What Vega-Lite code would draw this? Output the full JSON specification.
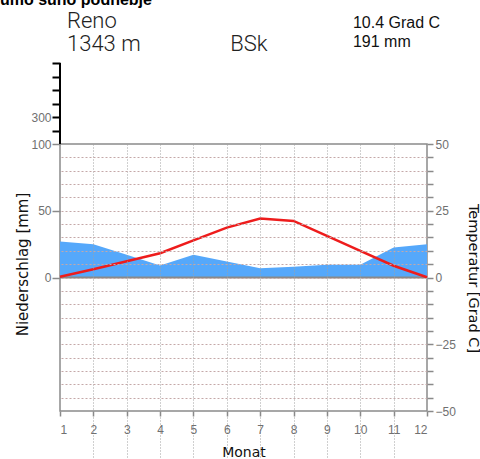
{
  "$schema": "https://vega.github.io/schema/vega-lite/v6.json",
  "width": 367,
  "height": 267,
  "autosize": "none",
  "padding": {"left": 60, "top": 144, "right": 53, "bottom": 48},
  "background": "white",
  "config": {
    "view": {"stroke": "#8a8a8a", "strokeWidth": 1.5},
    "font": "Liberation Sans",
    "axis": {"labelOverlap": false}
  },
  "datasets": {
    "climate": [
      {"month": 1, "precip": 27, "temp": 0.3},
      {"month": 2, "precip": 25, "temp": 3.1},
      {"month": 3, "precip": 17, "temp": 6.1},
      {"month": 4, "precip": 9, "temp": 9.1},
      {"month": 5, "precip": 17, "temp": 13.9},
      {"month": 6, "precip": 12, "temp": 18.7},
      {"month": 7, "precip": 7, "temp": 22.1},
      {"month": 8, "precip": 8, "temp": 21.2},
      {"month": 9, "precip": 9.5, "temp": 15.6},
      {"month": 10, "precip": 9.5, "temp": 10.0},
      {"month": 11, "precip": 22.5, "temp": 4.4},
      {"month": 12, "precip": 25, "temp": 0.1}
    ]
  },
  "layer": [
    {
      "layer": [
        {
          "data": {"name": "climate"},
          "mark": {"type": "area", "color": "#55a8fb", "interpolate": "linear"},
          "encoding": {
            "x": {
              "field": "month", "type": "quantitative", "title": "Monat",
              "scale": {"domain": [1, 12], "nice": false, "zero": false},
              "axis": {"title": "Monat", "values": [1, 2, 3, 4, 5, 6, 7, 8, 9, 10, 11, 12], "format": "d", "labelOverlap": false, "grid": true, "gridColor": "#a0a0a0", "gridDash": [1, 2], "gridOpacity": {"condition": {"test": "datum.value == 1 || datum.value == 12", "value": 0}, "value": 1}, "domain": false, "tickSize": 5, "tickColor": "#8a8a8a", "tickWidth": 1.5, "labelColor": "#707070", "labelFontSize": 12, "labelPadding": 8, "titleFont": "DejaVu Sans", "titleFontSize": 14, "titleFontWeight": "normal", "titleColor": "#111111", "titleY": 41, "titleBaseline": "middle", "zindex": 1}
            },
            "y": {
              "field": "precip", "type": "quantitative", "title": "Niederschlag [mm]",
              "scale": {"domain": [-100, 100, 700], "range": [267, 0, -81], "nice": false, "zero": false},
              "axis": {"title": "Niederschlag [mm]", "values": [0, 50, 100, 200, 300, 400, 500, 600, 700], "labelExpr": "indexof([0, 50, 100, 300], datum.value) >= 0 ? datum.label : ''", "labelOverlap": false, "domain": false, "grid": false, "tickSize": 8, "tickColor": {"condition": {"test": "datum.value > 100", "value": "black"}, "value": "#8a8a8a"}, "tickWidth": {"condition": {"test": "datum.value > 100", "value": 2}, "value": 1.5}, "labelColor": "#707070", "labelFontSize": 12, "labelPadding": 1, "titleFont": "DejaVu Sans", "titleFontSize": 15, "titleFontWeight": "normal", "titleColor": "#111111", "titleX": -38, "titleY": 120, "titleAngle": 270, "titleAlign": "center", "titleBaseline": "middle"}
            }
          }
        },
        {
          "data": {"values": [{}]},
          "mark": {"type": "rule", "color": "black", "strokeWidth": 2},
          "encoding": {
            "x": {"datum": 1, "type": "quantitative", "title": "Monat",
              "axis": {"title": "Monat", "values": [1, 2, 3, 4, 5, 6, 7, 8, 9, 10, 11, 12], "format": "d", "labelOverlap": false, "grid": true, "gridColor": "#a0a0a0", "gridDash": [1, 2], "gridOpacity": {"condition": {"test": "datum.value == 1 || datum.value == 12", "value": 0}, "value": 1}, "domain": false, "tickSize": 5, "tickColor": "#8a8a8a", "tickWidth": 1.5, "labelColor": "#707070", "labelFontSize": 12, "labelPadding": 8, "titleFont": "DejaVu Sans", "titleFontSize": 14, "titleFontWeight": "normal", "titleColor": "#111111", "titleY": 41, "titleBaseline": "middle", "zindex": 1}},
            "y": {"datum": 100, "type": "quantitative", "title": "Niederschlag [mm]",
              "axis": {"title": "Niederschlag [mm]", "values": [0, 50, 100, 200, 300, 400, 500, 600, 700], "labelExpr": "indexof([0, 50, 100, 300], datum.value) >= 0 ? datum.label : ''", "labelOverlap": false, "domain": false, "grid": false, "tickSize": 8, "tickColor": {"condition": {"test": "datum.value > 100", "value": "black"}, "value": "#8a8a8a"}, "tickWidth": {"condition": {"test": "datum.value > 100", "value": 2}, "value": 1.5}, "labelColor": "#707070", "labelFontSize": 12, "labelPadding": 1, "titleFont": "DejaVu Sans", "titleFontSize": 15, "titleFontWeight": "normal", "titleColor": "#111111", "titleX": -38, "titleY": 120, "titleAngle": 270, "titleAlign": "center", "titleBaseline": "middle"}},
            "y2": {"datum": 700}
          }
        }
      ]
    },
    {
      "layer": [
        {
          "data": {"values": [{}]},
          "mark": {"type": "rule", "color": "#8a8a8a", "strokeWidth": 2},
          "encoding": {
            "y": {"datum": 0, "type": "quantitative", "title": "Temperatur [Grad C]",
              "scale": {"domain": [-50, 50], "nice": false, "zero": false},
              "axis": {"orient": "right", "title": "Temperatur [Grad C]", "values": [-50, -45, -40, -35, -30, -25, -20, -15, -10, -5, 0, 5, 10, 15, 20, 25, 30, 35, 40, 45, 50], "labelExpr": "datum.value % 25 === 0 ? datum.label : ''", "labelOverlap": false, "grid": true, "gridColor": "#c4a8a8", "gridDash": [2, 2], "gridOpacity": {"condition": {"test": "abs(datum.value) == 50", "value": 0}, "value": 1}, "domain": false, "tickSize": 6, "tickColor": "#8a8a8a", "tickWidth": 1.5, "labelPadding": 2, "labelColor": "#707070", "labelFontSize": 12, "titleFont": "DejaVu Sans", "titleFontSize": 14.5, "titleFontWeight": "normal", "titleColor": "#111111", "titleAngle": 90, "titleX": 45, "titleY": 134, "titleAlign": "center", "titleBaseline": "middle", "zindex": 1}}
          }
        },
        {
          "data": {"name": "climate"},
          "mark": {"type": "line", "color": "#ee1c1c", "strokeWidth": 2.5},
          "encoding": {
            "x": {"field": "month", "type": "quantitative", "title": "Monat",
              "axis": {"title": "Monat", "values": [1, 2, 3, 4, 5, 6, 7, 8, 9, 10, 11, 12], "format": "d", "labelOverlap": false, "grid": true, "gridColor": "#a0a0a0", "gridDash": [1, 2], "gridOpacity": {"condition": {"test": "datum.value == 1 || datum.value == 12", "value": 0}, "value": 1}, "domain": false, "tickSize": 5, "tickColor": "#8a8a8a", "tickWidth": 1.5, "labelColor": "#707070", "labelFontSize": 12, "labelPadding": 8, "titleFont": "DejaVu Sans", "titleFontSize": 14, "titleFontWeight": "normal", "titleColor": "#111111", "titleY": 41, "titleBaseline": "middle", "zindex": 1}},
            "y": {"field": "temp", "type": "quantitative", "title": "Temperatur [Grad C]",
              "axis": {"orient": "right", "title": "Temperatur [Grad C]", "values": [-50, -45, -40, -35, -30, -25, -20, -15, -10, -5, 0, 5, 10, 15, 20, 25, 30, 35, 40, 45, 50], "labelExpr": "datum.value % 25 === 0 ? datum.label : ''", "labelOverlap": false, "grid": true, "gridColor": "#c4a8a8", "gridDash": [2, 2], "gridOpacity": {"condition": {"test": "abs(datum.value) == 50", "value": 0}, "value": 1}, "domain": false, "tickSize": 6, "tickColor": "#8a8a8a", "tickWidth": 1.5, "labelPadding": 2, "labelColor": "#707070", "labelFontSize": 12, "titleFont": "DejaVu Sans", "titleFontSize": 14.5, "titleFontWeight": "normal", "titleColor": "#111111", "titleAngle": 90, "titleX": 45, "titleY": 134, "titleAlign": "center", "titleBaseline": "middle", "zindex": 1}}
          }
        },
        {
          "data": {"values": [{"label": "umo suho podnebje"}]},
          "mark": {"type": "text", "align": "left", "baseline": "alphabetic", "fontSize": 16, "fontWeight": "bold", "color": "black"},
          "encoding": {"text": {"field": "label"},
            "x": {"datum": -0.8, "type": "quantitative", "title": "Monat", "axis": {"title": "Monat", "values": [1, 2, 3, 4, 5, 6, 7, 8, 9, 10, 11, 12], "format": "d", "labelOverlap": false, "grid": true, "gridColor": "#a0a0a0", "gridDash": [1, 2], "gridOpacity": {"condition": {"test": "datum.value == 1 || datum.value == 12", "value": 0}, "value": 1}, "domain": false, "tickSize": 5, "tickColor": "#8a8a8a", "tickWidth": 1.5, "labelColor": "#707070", "labelFontSize": 12, "labelPadding": 8, "titleFont": "DejaVu Sans", "titleFontSize": 14, "titleFontWeight": "normal", "titleColor": "#111111", "titleY": 41, "titleBaseline": "middle", "zindex": 1}},
            "y": {"datum": 102, "type": "quantitative", "title": "Temperatur [Grad C]", "axis": {"orient": "right", "title": "Temperatur [Grad C]", "values": [-50, -45, -40, -35, -30, -25, -20, -15, -10, -5, 0, 5, 10, 15, 20, 25, 30, 35, 40, 45, 50], "labelExpr": "datum.value % 25 === 0 ? datum.label : ''", "labelOverlap": false, "grid": true, "gridColor": "#c4a8a8", "gridDash": [2, 2], "gridOpacity": {"condition": {"test": "abs(datum.value) == 50", "value": 0}, "value": 1}, "domain": false, "tickSize": 6, "tickColor": "#8a8a8a", "tickWidth": 1.5, "labelPadding": 2, "labelColor": "#707070", "labelFontSize": 12, "titleFont": "DejaVu Sans", "titleFontSize": 14.5, "titleFontWeight": "normal", "titleColor": "#111111", "titleAngle": 90, "titleX": 45, "titleY": 134, "titleAlign": "center", "titleBaseline": "middle", "zindex": 1}}}
        },
        {
          "data": {"values": [{"label": "Reno"}]},
          "mark": {"type": "text", "align": "left", "baseline": "alphabetic", "font": "Roboto", "fontWeight": 300, "fontSize": 22, "color": "#222222"},
          "encoding": {"text": {"field": "label"},
            "x": {"datum": 1.21, "type": "quantitative", "title": "Monat", "axis": {"title": "Monat", "values": [1, 2, 3, 4, 5, 6, 7, 8, 9, 10, 11, 12], "format": "d", "labelOverlap": false, "grid": true, "gridColor": "#a0a0a0", "gridDash": [1, 2], "gridOpacity": {"condition": {"test": "datum.value == 1 || datum.value == 12", "value": 0}, "value": 1}, "domain": false, "tickSize": 5, "tickColor": "#8a8a8a", "tickWidth": 1.5, "labelColor": "#707070", "labelFontSize": 12, "labelPadding": 8, "titleFont": "DejaVu Sans", "titleFontSize": 14, "titleFontWeight": "normal", "titleColor": "#111111", "titleY": 41, "titleBaseline": "middle", "zindex": 1}},
            "y": {"datum": 93.45, "type": "quantitative", "title": "Temperatur [Grad C]", "axis": {"orient": "right", "title": "Temperatur [Grad C]", "values": [-50, -45, -40, -35, -30, -25, -20, -15, -10, -5, 0, 5, 10, 15, 20, 25, 30, 35, 40, 45, 50], "labelExpr": "datum.value % 25 === 0 ? datum.label : ''", "labelOverlap": false, "grid": true, "gridColor": "#c4a8a8", "gridDash": [2, 2], "gridOpacity": {"condition": {"test": "abs(datum.value) == 50", "value": 0}, "value": 1}, "domain": false, "tickSize": 6, "tickColor": "#8a8a8a", "tickWidth": 1.5, "labelPadding": 2, "labelColor": "#707070", "labelFontSize": 12, "titleFont": "DejaVu Sans", "titleFontSize": 14.5, "titleFontWeight": "normal", "titleColor": "#111111", "titleAngle": 90, "titleX": 45, "titleY": 134, "titleAlign": "center", "titleBaseline": "middle", "zindex": 1}}}
        },
        {
          "data": {"values": [{"label": "1343  m"}]},
          "mark": {"type": "text", "align": "left", "baseline": "alphabetic", "font": "Roboto", "fontWeight": 300, "fontSize": 22, "color": "#222222"},
          "encoding": {"text": {"field": "label"},
            "x": {"datum": 1.21, "type": "quantitative", "title": "Monat", "axis": {"title": "Monat", "values": [1, 2, 3, 4, 5, 6, 7, 8, 9, 10, 11, 12], "format": "d", "labelOverlap": false, "grid": true, "gridColor": "#a0a0a0", "gridDash": [1, 2], "gridOpacity": {"condition": {"test": "datum.value == 1 || datum.value == 12", "value": 0}, "value": 1}, "domain": false, "tickSize": 5, "tickColor": "#8a8a8a", "tickWidth": 1.5, "labelColor": "#707070", "labelFontSize": 12, "labelPadding": 8, "titleFont": "DejaVu Sans", "titleFontSize": 14, "titleFontWeight": "normal", "titleColor": "#111111", "titleY": 41, "titleBaseline": "middle", "zindex": 1}},
            "y": {"datum": 84.83, "type": "quantitative", "title": "Temperatur [Grad C]", "axis": {"orient": "right", "title": "Temperatur [Grad C]", "values": [-50, -45, -40, -35, -30, -25, -20, -15, -10, -5, 0, 5, 10, 15, 20, 25, 30, 35, 40, 45, 50], "labelExpr": "datum.value % 25 === 0 ? datum.label : ''", "labelOverlap": false, "grid": true, "gridColor": "#c4a8a8", "gridDash": [2, 2], "gridOpacity": {"condition": {"test": "abs(datum.value) == 50", "value": 0}, "value": 1}, "domain": false, "tickSize": 6, "tickColor": "#8a8a8a", "tickWidth": 1.5, "labelPadding": 2, "labelColor": "#707070", "labelFontSize": 12, "titleFont": "DejaVu Sans", "titleFontSize": 14.5, "titleFontWeight": "normal", "titleColor": "#111111", "titleAngle": 90, "titleX": 45, "titleY": 134, "titleAlign": "center", "titleBaseline": "middle", "zindex": 1}}}
        },
        {
          "data": {"values": [{"label": "BSk"}]},
          "mark": {"type": "text", "align": "left", "baseline": "alphabetic", "font": "Roboto", "fontWeight": 300, "fontSize": 22, "color": "#222222"},
          "encoding": {"text": {"field": "label"},
            "x": {"datum": 6.1, "type": "quantitative", "title": "Monat", "axis": {"title": "Monat", "values": [1, 2, 3, 4, 5, 6, 7, 8, 9, 10, 11, 12], "format": "d", "labelOverlap": false, "grid": true, "gridColor": "#a0a0a0", "gridDash": [1, 2], "gridOpacity": {"condition": {"test": "datum.value == 1 || datum.value == 12", "value": 0}, "value": 1}, "domain": false, "tickSize": 5, "tickColor": "#8a8a8a", "tickWidth": 1.5, "labelColor": "#707070", "labelFontSize": 12, "labelPadding": 8, "titleFont": "DejaVu Sans", "titleFontSize": 14, "titleFontWeight": "normal", "titleColor": "#111111", "titleY": 41, "titleBaseline": "middle", "zindex": 1}},
            "y": {"datum": 84.83, "type": "quantitative", "title": "Temperatur [Grad C]", "axis": {"orient": "right", "title": "Temperatur [Grad C]", "values": [-50, -45, -40, -35, -30, -25, -20, -15, -10, -5, 0, 5, 10, 15, 20, 25, 30, 35, 40, 45, 50], "labelExpr": "datum.value % 25 === 0 ? datum.label : ''", "labelOverlap": false, "grid": true, "gridColor": "#c4a8a8", "gridDash": [2, 2], "gridOpacity": {"condition": {"test": "abs(datum.value) == 50", "value": 0}, "value": 1}, "domain": false, "tickSize": 6, "tickColor": "#8a8a8a", "tickWidth": 1.5, "labelPadding": 2, "labelColor": "#707070", "labelFontSize": 12, "titleFont": "DejaVu Sans", "titleFontSize": 14.5, "titleFontWeight": "normal", "titleColor": "#111111", "titleAngle": 90, "titleX": 45, "titleY": 134, "titleAlign": "center", "titleBaseline": "middle", "zindex": 1}}}
        },
        {
          "data": {"values": [{"label": "10.4 Grad C"}]},
          "mark": {"type": "text", "align": "left", "baseline": "alphabetic", "fontSize": 16, "color": "#111111"},
          "encoding": {"text": {"field": "label"},
            "x": {"datum": 9.78, "type": "quantitative", "title": "Monat", "axis": {"title": "Monat", "values": [1, 2, 3, 4, 5, 6, 7, 8, 9, 10, 11, 12], "format": "d", "labelOverlap": false, "grid": true, "gridColor": "#a0a0a0", "gridDash": [1, 2], "gridOpacity": {"condition": {"test": "datum.value == 1 || datum.value == 12", "value": 0}, "value": 1}, "domain": false, "tickSize": 5, "tickColor": "#8a8a8a", "tickWidth": 1.5, "labelColor": "#707070", "labelFontSize": 12, "labelPadding": 8, "titleFont": "DejaVu Sans", "titleFontSize": 14, "titleFontWeight": "normal", "titleColor": "#111111", "titleY": 41, "titleBaseline": "middle", "zindex": 1}},
            "y": {"datum": 93.45, "type": "quantitative", "title": "Temperatur [Grad C]", "axis": {"orient": "right", "title": "Temperatur [Grad C]", "values": [-50, -45, -40, -35, -30, -25, -20, -15, -10, -5, 0, 5, 10, 15, 20, 25, 30, 35, 40, 45, 50], "labelExpr": "datum.value % 25 === 0 ? datum.label : ''", "labelOverlap": false, "grid": true, "gridColor": "#c4a8a8", "gridDash": [2, 2], "gridOpacity": {"condition": {"test": "abs(datum.value) == 50", "value": 0}, "value": 1}, "domain": false, "tickSize": 6, "tickColor": "#8a8a8a", "tickWidth": 1.5, "labelPadding": 2, "labelColor": "#707070", "labelFontSize": 12, "titleFont": "DejaVu Sans", "titleFontSize": 14.5, "titleFontWeight": "normal", "titleColor": "#111111", "titleAngle": 90, "titleX": 45, "titleY": 134, "titleAlign": "center", "titleBaseline": "middle", "zindex": 1}}}
        },
        {
          "data": {"values": [{"label": "191 mm"}]},
          "mark": {"type": "text", "align": "left", "baseline": "alphabetic", "fontSize": 16, "color": "#111111"},
          "encoding": {"text": {"field": "label"},
            "x": {"datum": 9.78, "type": "quantitative", "title": "Monat", "axis": {"title": "Monat", "values": [1, 2, 3, 4, 5, 6, 7, 8, 9, 10, 11, 12], "format": "d", "labelOverlap": false, "grid": true, "gridColor": "#a0a0a0", "gridDash": [1, 2], "gridOpacity": {"condition": {"test": "datum.value == 1 || datum.value == 12", "value": 0}, "value": 1}, "domain": false, "tickSize": 5, "tickColor": "#8a8a8a", "tickWidth": 1.5, "labelColor": "#707070", "labelFontSize": 12, "labelPadding": 8, "titleFont": "DejaVu Sans", "titleFontSize": 14, "titleFontWeight": "normal", "titleColor": "#111111", "titleY": 41, "titleBaseline": "middle", "zindex": 1}},
            "y": {"datum": 86.33, "type": "quantitative", "title": "Temperatur [Grad C]", "axis": {"orient": "right", "title": "Temperatur [Grad C]", "values": [-50, -45, -40, -35, -30, -25, -20, -15, -10, -5, 0, 5, 10, 15, 20, 25, 30, 35, 40, 45, 50], "labelExpr": "datum.value % 25 === 0 ? datum.label : ''", "labelOverlap": false, "grid": true, "gridColor": "#c4a8a8", "gridDash": [2, 2], "gridOpacity": {"condition": {"test": "abs(datum.value) == 50", "value": 0}, "value": 1}, "domain": false, "tickSize": 6, "tickColor": "#8a8a8a", "tickWidth": 1.5, "labelPadding": 2, "labelColor": "#707070", "labelFontSize": 12, "titleFont": "DejaVu Sans", "titleFontSize": 14.5, "titleFontWeight": "normal", "titleColor": "#111111", "titleAngle": 90, "titleX": 45, "titleY": 134, "titleAlign": "center", "titleBaseline": "middle", "zindex": 1}}}
        }
      ]
    }
  ],
  "resolve": {"scale": {"y": "independent"}, "axis": {"y": "independent"}}
}
